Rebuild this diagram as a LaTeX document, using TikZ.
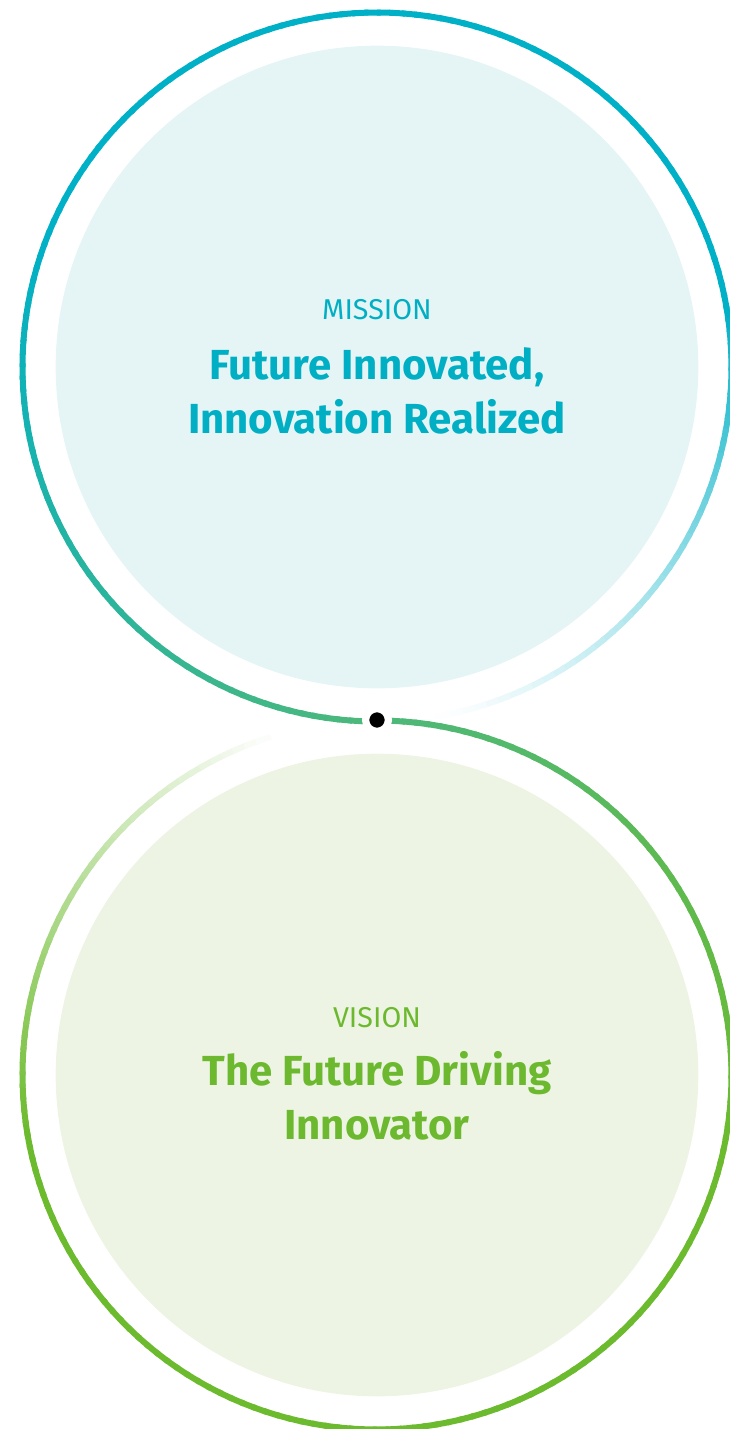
\documentclass[tikz,border=0pt]{standalone}
\usepackage{fontspec}
\setmainfont{Fira Sans}
\definecolor{ringteal}{RGB}{0,176,198}
\definecolor{ringmid}{RGB}{77,184,123}
\definecolor{ringgreen}{RGB}{108,187,46}
\definecolor{missionfill}{RGB}{229,244,245}
\definecolor{visionfill}{RGB}{237,244,227}
\definecolor{missiontxt}{RGB}{0,175,195}
\definecolor{visiontxt}{RGB}{108,185,47}
\begin{document}
\begin{tikzpicture}[x=0.75pt,y=0.75pt,yscale=-1,xscale=1,
    ring/.style={line width=4.5pt},
    disc/.style={circle,minimum size=482pt,inner sep=0pt},
    tagtext/.style={anchor=base,font=\fontsize{21.5}{26}\selectfont},
    title/.style={align=center,anchor=base,font=\fontsize{31.5}{40}\selectfont\bfseries}]
        \useasboundingbox (0,0) rectangle (729,1429);
        \node [disc,fill=missionfill] (mission) at (377,367) {};
        \node [disc,fill=visionfill] (vision) at (377,1075) {};
        % faded ends of the rings
        \foreach \a in {350,352,...,438} {
            \pgfmathsetmacro\o{100*((440-\a)/90)^1.3}
            \draw [ring,color=ringteal!\o!white] (mission.center) ++(\a:354.5) arc [start angle=\a,end angle=\a+2.6,radius=354.5];
        }
        \foreach \a in {530,532,...,610} {
            \pgfmathsetmacro\o{100*(612-\a)/82}
            \draw [ring,color=ringgreen!\o!white] (vision.center) ++(\a:354.5) arc [start angle=\a,end angle=\a+2.6,radius=354.5];
        }
        % solid parts
        \foreach \a in {90,92,...,348} {
            \pgfmathsetmacro\g{max(0,min(100,100*(200-\a)/110))}
            \draw [ring,color=ringmid!\g!ringteal] (mission.center) ++(\a:354.5) arc [start angle=\a,end angle=\a+2.6,radius=354.5];
        }
        \foreach \a in {270,272,...,528} {
            \pgfmathsetmacro\g{max(0,min(100,100*(370-\a)/100))}
            \draw [ring,color=ringmid!\g!ringgreen] (vision.center) ++(\a:354.5) arc [start angle=\a,end angle=\a+2.6,radius=354.5];
        }
        \node [circle,fill=black,draw=white,line width=5.4pt,minimum size=17.1pt,inner sep=0pt] (joint) at (377,720) {};
        \node [tagtext,text=missiontxt] (missionlabel) at (377,319) {MISSION};
        \node [title,text=missiontxt] (missiontext) at (377,433) {Future Innovated,\\Innovation Realized};
        \node [tagtext,text=visiontxt] (visionlabel) at (377,1027) {VISION};
        \node [title,text=visiontxt] (visiontext) at (377,1139) {The Future Driving\\Innovator};
\end{tikzpicture}
\end{document}
